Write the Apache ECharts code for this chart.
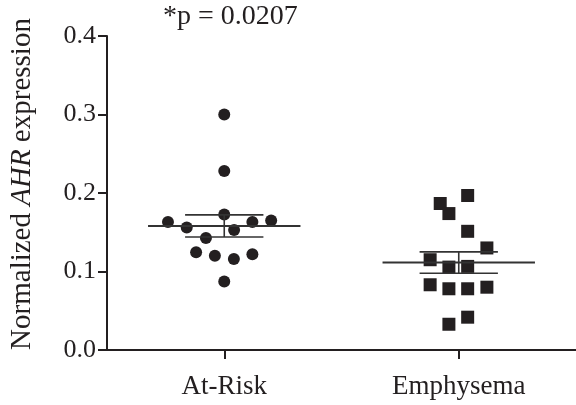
<!DOCTYPE html>
<html>
<head>
<meta charset="utf-8">
<script src="https://cdn.jsdelivr.net/npm/echarts@6/dist/echarts.min.js"></script>
<style>
html,body{margin:0;padding:0;background:#fff;}
#chart{width:576px;height:405px;}
</style>
</head>
<body>
<div id="chart"></div>
<script>
// Data
const categories = ['At-Risk', 'Emphysema'];
const yTicks = [0.0, 0.1, 0.2, 0.3, 0.4];
const atRiskValues = [0.300, 0.228, 0.1725, 0.163, 0.156, 0.1426, 0.153, 0.163, 0.165, 0.1244, 0.120, 0.1159, 0.122, 0.0873];
const atRiskJitter = [0, 0, 0, -0.24, -0.16, -0.078, 0.042, 0.12, 0.20, -0.12, -0.04, 0.041, 0.12, 0];
const emphysemaValues = [0.1968, 0.1866, 0.1738, 0.1512, 0.130, 0.115, 0.1056, 0.1065, 0.0831, 0.078, 0.078, 0.080, 0.0418, 0.0328];
const emphysemaJitter = [0.038, -0.079, -0.042, 0.038, 0.12, -0.122, -0.042, 0.038, -0.122, -0.042, 0.038, 0.12, 0.038, -0.042];
const pText = '*p = 0.0207';

function meanSem(arr) {
  const n = arr.length;
  const m = arr.reduce((a, b) => a + b, 0) / n;
  const v = arr.reduce((a, b) => a + (b - m) * (b - m), 0) / (n - 1);
  return [m, Math.sqrt(v) / Math.sqrt(n)];
}
const groups = [atRiskValues, emphysemaValues];
const jitters = [atRiskJitter, emphysemaJitter];
const errData = groups.map((g, i) => { const ms = meanSem(g); return [i, ms[0], ms[1]]; });

const INK = '#231f20';
const FONT = 'Liberation Serif';

const chart = echarts.init(document.getElementById('chart'));
chart.setOption({
  animation: false,
  backgroundColor: '#fff',
  grid: { left: 107, right: -3, top: 36, bottom: 55, containLabel: false },
  xAxis: {
    type: 'value', min: -0.5, max: 1.5,
    splitLine: { show: false },
    axisLine: { show: true, onZero: false, lineStyle: { color: INK, width: 2 } },
    axisTick: { show: true, length: 9, customValues: [0, 1], lineStyle: { color: INK, width: 2 } },
    axisLabel: { show: true, customValues: [0, 1], margin: 23, formatter: v => categories[Math.round(v)],
      fontFamily: FONT, fontSize: 27, color: INK }
  },
  yAxis: {
    type: 'value', min: 0, max: 0.4, interval: 0.1,
    splitLine: { show: false },
    axisLine: { show: true, onZero: false, lineStyle: { color: INK, width: 2 } },
    axisTick: { show: true, length: 9, lineStyle: { color: INK, width: 2 } },
    axisLabel: { margin: 11, fontFamily: FONT, fontSize: 26, color: INK,
      formatter: v => { const t = yTicks.find(x => Math.abs(x - v) < 1e-9); return (t !== undefined ? t : v).toFixed(1); } }
  },
  graphic: [
    { type: 'text', left: 163, top: 3, style: { text: pText, font: '28px "Liberation Serif"', fill: INK } },
    { type: 'text', x: 22, y: 184, rotation: Math.PI / 2,
      style: {
        text: '{n|Normalized }{i|AHR}{n| expression}',
        align: 'center', verticalAlign: 'middle',
        rich: {
          n: { fontFamily: FONT, fontSize: 29, fill: INK, color: INK },
          i: { fontFamily: FONT, fontSize: 29, fontStyle: 'italic', fill: INK, color: INK }
        }
      } }
  ],
  series: [
    {
      type: 'scatter', symbol: 'circle', symbolSize: 12,
      itemStyle: { color: INK, opacity: 1 },
      data: atRiskValues.map((v, i) => [0 + jitters[0][i], v])
    },
    {
      type: 'scatter', symbol: 'rect', symbolSize: 13,
      itemStyle: { color: INK, opacity: 1 },
      data: emphysemaValues.map((v, i) => [1 + jitters[1][i], v])
    },
    {
      type: 'custom',
      z: 5,
      data: errData,
      renderItem: function (params, api) {
        const c = api.value(0), m = api.value(1), s = api.value(2);
        const ml = api.coord([c - 0.325, m]), mr = api.coord([c + 0.325, m]);
        const hl = api.coord([c - 0.167, m + s]), hr = api.coord([c + 0.167, m + s]);
        const ll = api.coord([c - 0.167, m - s]), lr = api.coord([c + 0.167, m - s]);
        const vt = api.coord([c, m + s]), vb = api.coord([c, m - s]);
        const st = { stroke: '#333', lineWidth: 1.6 };
        return {
          type: 'group',
          children: [
            { type: 'line', shape: { x1: ml[0], y1: ml[1], x2: mr[0], y2: mr[1] }, style: { stroke: '#333', lineWidth: 2 } },
            { type: 'line', shape: { x1: hl[0], y1: hl[1], x2: hr[0], y2: hr[1] }, style: st },
            { type: 'line', shape: { x1: ll[0], y1: ll[1], x2: lr[0], y2: lr[1] }, style: st },
            { type: 'line', shape: { x1: vt[0], y1: vt[1], x2: vb[0], y2: vb[1] }, style: st }
          ]
        };
      }
    }
  ]
});
</script>
</body>
</html>
